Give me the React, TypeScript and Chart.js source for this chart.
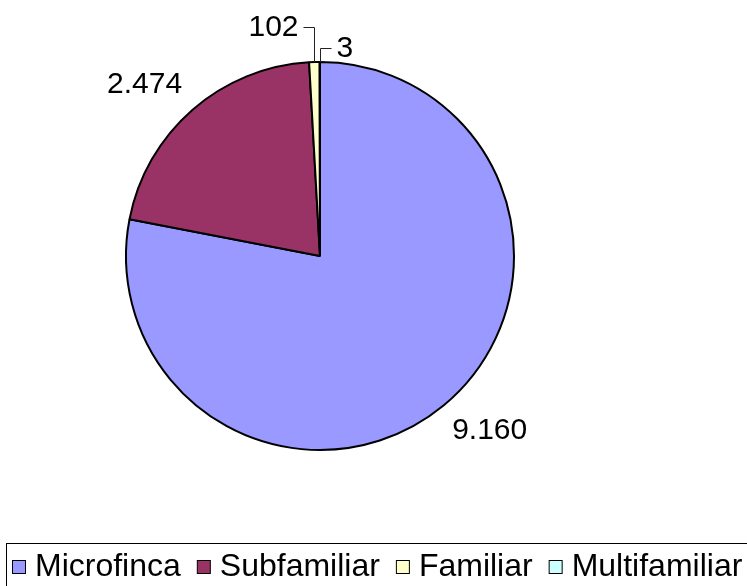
import { useEffect, useRef } from 'react';
import { Chart, registerables } from 'chart.js';

Chart.register(...registerables);

const categories = ['Microfinca', 'Subfamiliar', 'Familiar', 'Multifamiliar'];
const values = [9160, 2474, 102, 3];
const colors = ['#9999FF', '#993366', '#FFFFCC', '#CCFFFF'];

const FONT = '"Liberation Sans", Arial, sans-serif';
const fmt = (v: number) => v.toString().replace(/\B(?=(\d{3})+(?!\d))/g, '.');

// leader-line placement for thin slices: side (-1 left, 1 right) and rise above the rim
const leaderSide = [0, 0, -1, 1];
const leaderRise = [0, 0, 35, 14];

const labelPlugin = {
  id: 'sliceLabels',
  afterDatasetsDraw(chart: any) {
    const ctx = chart.ctx as CanvasRenderingContext2D;
    const meta = chart.getDatasetMeta(0);
    ctx.save();
    ctx.font = `30px ${FONT}`;
    ctx.fillStyle = '#000';
    ctx.textBaseline = 'middle';
    meta.data.forEach((arc: any, i: number) => {
      const { x, y, startAngle, endAngle, outerRadius } = arc.getProps(
        ['x', 'y', 'startAngle', 'endAngle', 'outerRadius'],
        true
      );
      const mid = (startAngle + endAngle) / 2;
      const c = Math.cos(mid);
      const s = Math.sin(mid);
      const text = fmt(values[i]);
      const w = ctx.measureText(text).width;
      if (leaderSide[i] === 0) {
        const tx = x + c * (outerRadius + 35) + (c * w) / 2;
        const ty = y + s * (outerRadius + 22) + s * 11;
        ctx.textAlign = 'center';
        ctx.fillText(text, tx, ty);
      } else {
        const ex = Math.round(x + c * outerRadius) + 0.5;
        const ey = y + s * outerRadius;
        const ky = Math.round(ey - leaderRise[i]) + 0.5;
        const hx = ex + leaderSide[i] * 11;
        ctx.strokeStyle = '#222';
        ctx.lineWidth = 1;
        ctx.beginPath();
        ctx.moveTo(ex, ey);
        ctx.lineTo(ex, ky);
        ctx.lineTo(hx, ky);
        ctx.stroke();
        ctx.textAlign = leaderSide[i] < 0 ? 'right' : 'left';
        ctx.fillText(text, hx + leaderSide[i] * 5, ky);
      }
    });
    ctx.restore();
  },
};

const legendPlugin = {
  id: 'boxLegend',
  afterDraw(chart: any) {
    const ctx = chart.ctx as CanvasRenderingContext2D;
    ctx.save();
    ctx.strokeStyle = '#000';
    ctx.lineWidth = 1;
    ctx.strokeRect(6.5, 543.5, chart.width + 50, 100);
    ctx.font = `32px ${FONT}`;
    ctx.textBaseline = 'middle';
    ctx.textAlign = 'left';
    const cy = 567;
    const box = 13;
    let x = 12;
    chart.data.labels.forEach((lab: string, i: number) => {
      ctx.fillStyle = chart.data.datasets[0].backgroundColor[i];
      ctx.fillRect(x + 0.5, cy - 6.5, box, box);
      ctx.strokeStyle = '#000';
      ctx.strokeRect(x + 0.5, cy - 6.5, box, box);
      x += box + 10;
      ctx.fillStyle = '#000';
      ctx.fillText(lab, x, cy);
      x += ctx.measureText(lab).width + 16;
    });
    ctx.restore();
  },
};

export default function App() {
  const ref = useRef<HTMLCanvasElement | null>(null);
  useEffect(() => {
    if (!ref.current) return;
    const chart = new Chart(ref.current, {
      type: 'pie',
      data: {
        labels: categories,
        datasets: [
          {
            data: values,
            backgroundColor: colors,
            borderColor: '#000',
            borderWidth: 2,
          },
        ],
      },
      options: {
        responsive: false,
        maintainAspectRatio: false,
        animation: false,
        events: [],
        radius: 194,
        layout: { padding: { left: 0, right: 107, top: 0, bottom: 74 } },
        plugins: {
          legend: { display: false },
          tooltip: { enabled: false },
        },
      } as any,
      plugins: [labelPlugin, legendPlugin],
    });
    return () => chart.destroy();
  }, []);
  return (
    <div style={{ position: 'fixed', left: 0, top: 0, width: 747, height: 586, background: '#fff' }}>
      <canvas ref={ref} width={747} height={586} />
    </div>
  );
}
